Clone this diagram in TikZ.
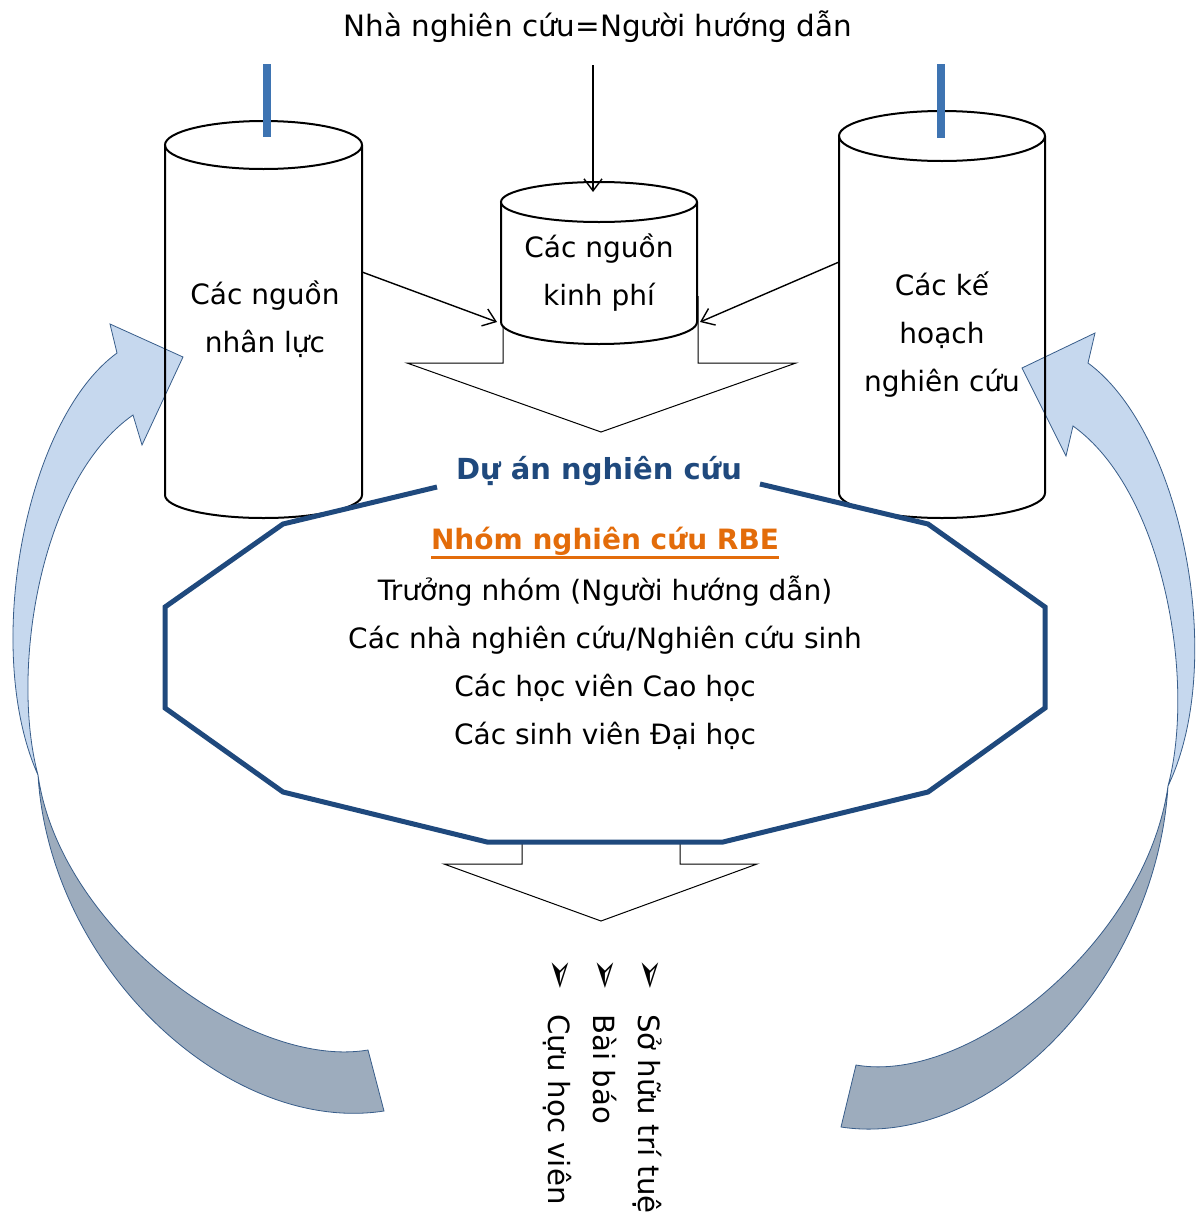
\documentclass[tikz,border=0pt]{standalone}
\usepackage{fontspec}
\setmainfont{DejaVu Sans}
\usepackage{xcolor}
\usetikzlibrary{arrows.meta,positioning,calc}

\definecolor{barblue}{RGB}{62,116,178}
\definecolor{octblue}{RGB}{31,73,125}
\definecolor{rbeorange}{RGB}{227,108,10}
\definecolor{lightarrow}{RGB}{198,216,238}
\definecolor{darkarrow}{RGB}{157,172,189}
\definecolor{arrowedge}{RGB}{56,93,138}

\newcommand{\thickul}[1]{\setbox0=\hbox{#1}\rlap{\rule[-4.5pt]{\wd0}{1.4pt}}\box0}
\newcommand{\resbullet}{{\fontsize{19}{19}\selectfont ➢}\hspace{12pt}}

\begin{document}
\begin{tikzpicture}[
    x=0.5pt, y=-0.5pt,
    txt/.style={align=center, inner sep=0pt, font=\fontsize{14}{24}\selectfont},
    cyl/.style={draw, line width=1pt},
    bar/.style={draw=barblue, line width=4pt},
    arrow/.style={-{Straight Barb[length=6pt,width=9pt]}, line width=0.7pt},
    hollow/.style={draw, line width=0.5pt, fill=white},
    octo/.style={draw=octblue, line width=2.5pt},
    lightpart/.style={fill=lightarrow, draw=arrowedge, line width=0.4pt},
    darkpart/.style={fill=darkarrow, draw=arrowedge, line width=0.4pt}
]
\useasboundingbox (0,0) rectangle (1204,1221);
\clip (0,0) rectangle (1204,1221);

% Feedback arrows (left)
\draw[lightpart] (117,353) -- (110,324) -- (183,357) -- (142,445) -- (133,415)
    .. controls (40,480) and (10,670) .. (38,775)
    .. controls (-18,650) and (25,420) .. (117,353) -- cycle;
\draw[darkpart] (38,775) .. controls (50,970) and (230,1135) .. (384,1111)
    -- (368,1050) .. controls (250,1070) and (60,930) .. (38,775) -- cycle;

% Feedback arrows (right)
\draw[lightpart] (1088,363) -- (1095,333) -- (1022,368) -- (1066,456) -- (1073,426)
    .. controls (1164,491) and (1196,681) .. (1168,786)
    .. controls (1228,661) and (1181,431) .. (1088,363) -- cycle;
\draw[darkpart] (1168,786) .. controls (1156,981) and (990,1150) .. (841,1127)
    -- (856,1065) .. controls (970,1085) and (1146,941) .. (1168,786) -- cycle;

% Side cylinders
\draw[cyl] (165,145) -- (165,495) arc[start angle=180, end angle=0, x radius=98.5, y radius=23] -- (362,145);
\draw[cyl] (263.5,145) ellipse [x radius=98.5, y radius=24];
\draw[cyl] (839,136) -- (839,493) arc[start angle=180, end angle=0, x radius=103, y radius=25] -- (1045,136);
\draw[cyl] (942,136) ellipse [x radius=103, y radius=25];

% Flow into project
\draw[hollow] (503,296) -- (503,363) -- (407,363) -- (601,432) -- (796,363) -- (698,363) -- (698,296);

% Middle cylinder
\draw[cyl, fill=white] (501,202) -- (501,322) arc[start angle=180, end angle=0, x radius=98, y radius=22] -- (697,202);
\draw[cyl, fill=white] (599,202) ellipse [x radius=98, y radius=20];

% Labels in cylinders
\node[txt] (staff) at (265,319) {Các nguồn\\nhân lực};
\node[txt] (funds) at (599,273) {Các nguồn\\kinh phí};
\node[txt] (plans) at (942,335) {Các kế\\hoạch\\nghiên cứu};
\node[txt, font=\fontsize{14.7}{24}\selectfont] (lead) at (598,27) {Nhà nghiên cứu=Người hướng dẫn};

% Connector ends
\coordinate (lead-out) at (593,65);
\coordinate (funds-top) at (593,192);
\coordinate (staff-out) at (362,272);
\coordinate (funds-left) at (497,322);
\coordinate (plans-out) at (839,262);
\coordinate (funds-right) at (700,322);
\coordinate (staff-bar) at (267,64);
\coordinate (staff-in) at (267,137);
\coordinate (plans-bar) at (941,64);
\coordinate (plans-in) at (941,138);

% Arrows
\draw[arrow] (lead-out) -- (funds-top);
\draw[arrow] (staff-out) -- (funds-left);
\draw[arrow] (plans-out) -- (funds-right);
\draw[bar] (staff-bar) -- (staff-in);
\draw[bar] (plans-bar) -- (plans-in);

% Flow out of project
\draw[hollow] (522,842) -- (522,864) -- (444,864) -- (601,921) -- (757,864) -- (680,864) -- (680,842);

% Project frame
\draw[octo] (437,487) -- (283,524) -- (165,607) -- (165,708) -- (283,792) -- (487,842)
    -- (723,842) -- (928,792) -- (1045,708) -- (1045,607) -- (928,524) -- (760,484);
\node[txt, font=\fontsize{14.5}{24}\selectfont\bfseries, text=octblue] (project) at (599,471) {Dự án nghiên cứu};
\node[txt, font=\fontsize{14}{24}\selectfont\bfseries, text=rbeorange] (team) at (605,543) {\thickul{Nhóm nghiên cứu RBE}};
\node[txt] (members) at (605,663) {Trưởng nhóm (Người hướng dẫn)\\Các nhà nghiên cứu/Nghiên cứu sinh\\Các học viên Cao học\\Các sinh viên Đại học};

% Results
\node[txt, align=left, rotate=-90, anchor=west, font=\fontsize{14.6}{22.5}\selectfont] (results) at (603,958)
    {\resbullet Sở hữu trí tuệ\\\resbullet Bài báo\\\resbullet Cựu học viên};

\end{tikzpicture}
\end{document}
